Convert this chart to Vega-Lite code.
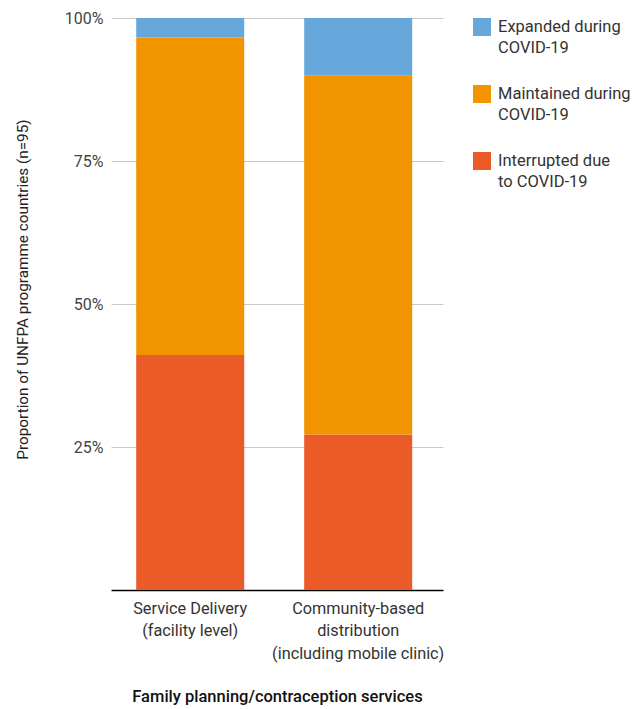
{
  "$schema": "https://vega.github.io/schema/vega-lite/v6.json",
  "autosize": "none",
  "width": 332,
  "height": 572,
  "padding": {"left": 111, "top": 18, "right": 197, "bottom": 119},
  "background": "white",
  "config": {
    "font": "Roboto",
    "view": {"stroke": null},
    "style": {"guide-label": {"lineHeight": 20.5}}
  },
  "data": {
    "values": [
      {"service": "Service Delivery (facility level)", "status": "Interrupted due to COVID-19", "pct": 41.1},
      {"service": "Service Delivery (facility level)", "status": "Maintained during COVID-19", "pct": 55.5},
      {"service": "Service Delivery (facility level)", "status": "Expanded during COVID-19", "pct": 3.4},
      {"service": "Community-based distribution (including mobile clinic)", "status": "Interrupted due to COVID-19", "pct": 27.2},
      {"service": "Community-based distribution (including mobile clinic)", "status": "Maintained during COVID-19", "pct": 62.7},
      {"service": "Community-based distribution (including mobile clinic)", "status": "Expanded during COVID-19", "pct": 10.1}
    ]
  },
  "transform": [
    {"calculate": "indexof(['Interrupted due to COVID-19','Maintained during COVID-19','Expanded during COVID-19'], datum.status)", "as": "stackOrder"}
  ],
  "mark": {"type": "bar"},
  "encoding": {
    "x": {
      "field": "service",
      "type": "nominal",
      "sort": null,
      "scale": {"paddingInner": 0.357, "paddingOuter": 0.1667, "align": 0.45},
      "axis": {
        "title": "Family planning/contraception services",
        "titleFontSize": 16.5,
        "titleFontWeight": 500,
        "titleColor": "#111",
        "titlePadding": 27,
        "labelAngle": 0,
        "labelFontSize": 16.3,
        "labelColor": "#333",
        "labelLineHeight": 22.5,
        "labelPadding": 10,
        "labelBaseline": "top",
        "ticks": false,
        "domainColor": "#000",
        "domainWidth": 1.5,
        "labelExpr": "datum.label == 'Service Delivery (facility level)' ? ['Service Delivery', '(facility level)'] : ['Community-based', 'distribution', '(including mobile clinic)']"
      }
    },
    "y": {
      "field": "pct",
      "type": "quantitative",
      "stack": "zero",
      "scale": {"domain": [0, 100], "nice": false},
      "axis": {
        "title": "Proportion of UNFPA programme countries (n=95)",
        "titleFontSize": 15.3,
        "titleFontWeight": "normal",
        "titleColor": "#222",
        "titlePadding": 34,
        "titleY": 271,
        "values": [25, 50, 75, 100],
        "labelExpr": "datum.value + '%'",
        "labelFontSize": 16,
        "labelColor": "#444",
        "labelPadding": 8,
        "ticks": false,
        "domain": false,
        "gridColor": "#c8c8c8",
        "gridWidth": 1
      }
    },
    "color": {
      "field": "status",
      "type": "nominal",
      "scale": {
        "domain": ["Expanded during COVID-19", "Maintained during COVID-19", "Interrupted due to COVID-19"],
        "range": ["#66a8db", "#f29300", "#eb5b27"]
      },
      "legend": {
        "title": null,
        "orient": "right",
        "offset": 30,
        "symbolType": "square",
        "symbolSize": 324,
        "symbolStrokeWidth": 0,
        "symbolOpacity": 1,
        "labelFontSize": 16.5,
        "labelColor": "#333",
        "labelBaseline": "middle",
        "labelOffset": 7,
        "rowPadding": 29,
        "labelExpr": "datum.label == 'Expanded during COVID-19' ? ['Expanded during', 'COVID-19'] : datum.label == 'Maintained during COVID-19' ? ['Maintained during', 'COVID-19'] : ['Interrupted due', 'to COVID-19']"
      }
    },
    "order": {"field": "stackOrder", "type": "quantitative"}
  }
}
